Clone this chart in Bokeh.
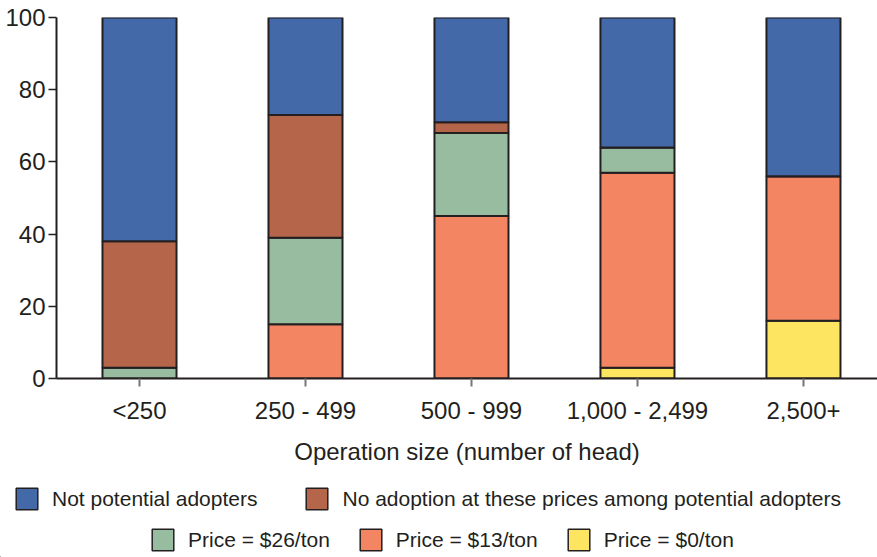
from bokeh.plotting import figure
from bokeh.layouts import column
from bokeh.models import Legend, LegendItem, FixedTicker, ColumnDataSource, Range1d
from bokeh.embed import file_html
from bokeh.resources import INLINE

categories = ["<250", "250 - 499", "500 - 999", "1,000 - 2,499", "2,500+"]
price_0 = [0, 0, 0, 3, 16]
price_13 = [0, 15, 45, 54, 40]
price_26 = [3, 24, 23, 7, 0]
no_adoption = [35, 34, 3, 0, 0]
not_potential = [62, 27, 29, 36, 44]

series_names = ["price_0", "price_13", "price_26", "no_adoption", "not_potential"]
series_labels = ["Price = $0/ton", "Price = $13/ton", "Price = $26/ton",
                 "No adoption at these prices among potential adopters",
                 "Not potential adopters"]
colors = ["#FEE561", "#F48563", "#98BCA0", "#B4654A", "#4469A8"]

TEXT = "#231F20"
FONT = "Liberation Sans"

src = ColumnDataSource(dict(
    x=list(range(len(categories))),
    price_0=price_0, price_13=price_13, price_26=price_26,
    no_adoption=no_adoption, not_potential=not_potential,
))

p = figure(width=877, height=470, output_backend="svg", toolbar_location=None,
           x_range=Range1d(-0.5, 4.446), y_range=Range1d(0, 100),
           min_border_left=56, min_border_top=17, min_border_right=0,
           min_border_bottom=92)
p.frame_align = False
p.outline_line_color = None
p.xgrid.visible = False
p.ygrid.visible = False
p.background_fill_color = None
p.border_fill_color = None

rs = p.vbar_stack(series_names, x="x", width=0.446, source=src, color=colors,
                  line_color=TEXT, line_width=2)

# axes
p.xaxis.ticker = FixedTicker(ticks=list(range(len(categories))))
p.xaxis.major_label_overrides = {i: c for i, c in enumerate(categories)}
p.xaxis.axis_label = "Operation size (number of head)"
p.yaxis.ticker = FixedTicker(ticks=[0, 20, 40, 60, 80, 100])
for ax in (p.xaxis, p.yaxis):
    ax.axis_line_color = TEXT
    ax.axis_line_width = 2
    ax.major_label_text_font = FONT
    ax.major_label_text_font_size = "24px"
    ax.major_label_text_color = TEXT
    ax.minor_tick_line_color = None
    ax.axis_label_text_font = FONT
    ax.axis_label_text_font_size = "24px"
    ax.axis_label_text_font_style = "normal"
    ax.axis_label_text_color = TEXT
p.xaxis.major_tick_in = 0
p.xaxis.major_tick_out = 8
p.xaxis.major_tick_line_color = "#777777"
p.xaxis.major_tick_line_width = 2
p.xaxis.major_label_standoff = 10
p.xaxis.axis_label_standoff = 11
p.yaxis.major_tick_in = 0
p.yaxis.major_tick_out = 8
p.yaxis.major_tick_line_color = TEXT
p.yaxis.major_tick_line_width = 1.5
p.yaxis.major_label_standoff = 3

# legend panel (separate figure below the chart)
lp = figure(width=877, height=87, output_backend="svg", toolbar_location=None,
            x_range=Range1d(0, 1), y_range=Range1d(0, 1),
            x_axis_type=None, y_axis_type=None,
            min_border=0, min_border_left=0, min_border_right=0,
            min_border_top=0, min_border_bottom=0)
lp.frame_align = False
lp.grid.visible = False
lp.outline_line_color = None
lp.background_fill_color = None
lp.border_fill_color = None

legend_src = ColumnDataSource(dict(x=[-5], top=[-5]))
swatches = [lp.vbar(x="x", top="top", width=0.1, source=legend_src,
                    fill_color=c, line_color=TEXT, line_width=1.5)
            for c in colors]

def make_legend(items, loc, spacing):
    return Legend(items=items, location=loc, orientation="horizontal",
                  glyph_width=27, glyph_height=27, label_standoff=12,
                  label_height=27, spacing=spacing, padding=0, margin=0,
                  border_line_color=None, background_fill_alpha=0,
                  label_text_font=FONT, label_text_font_size="21px",
                  label_text_color=TEXT)

leg1 = make_legend([LegendItem(label=series_labels[4], renderers=[swatches[4]]),
                    LegendItem(label=series_labels[3], renderers=[swatches[3]])],
                   (13, 45), 46)
leg2 = make_legend([LegendItem(label=series_labels[2], renderers=[swatches[2]]),
                    LegendItem(label=series_labels[1], renderers=[swatches[1]]),
                    LegendItem(label=series_labels[0], renderers=[swatches[0]])],
                   (149, 4), 27)
lp.add_layout(leg1, "center")
lp.add_layout(leg2, "center")

layout = column(p, lp, spacing=0)
open("out.html", "w").write(file_html(layout, INLINE))
